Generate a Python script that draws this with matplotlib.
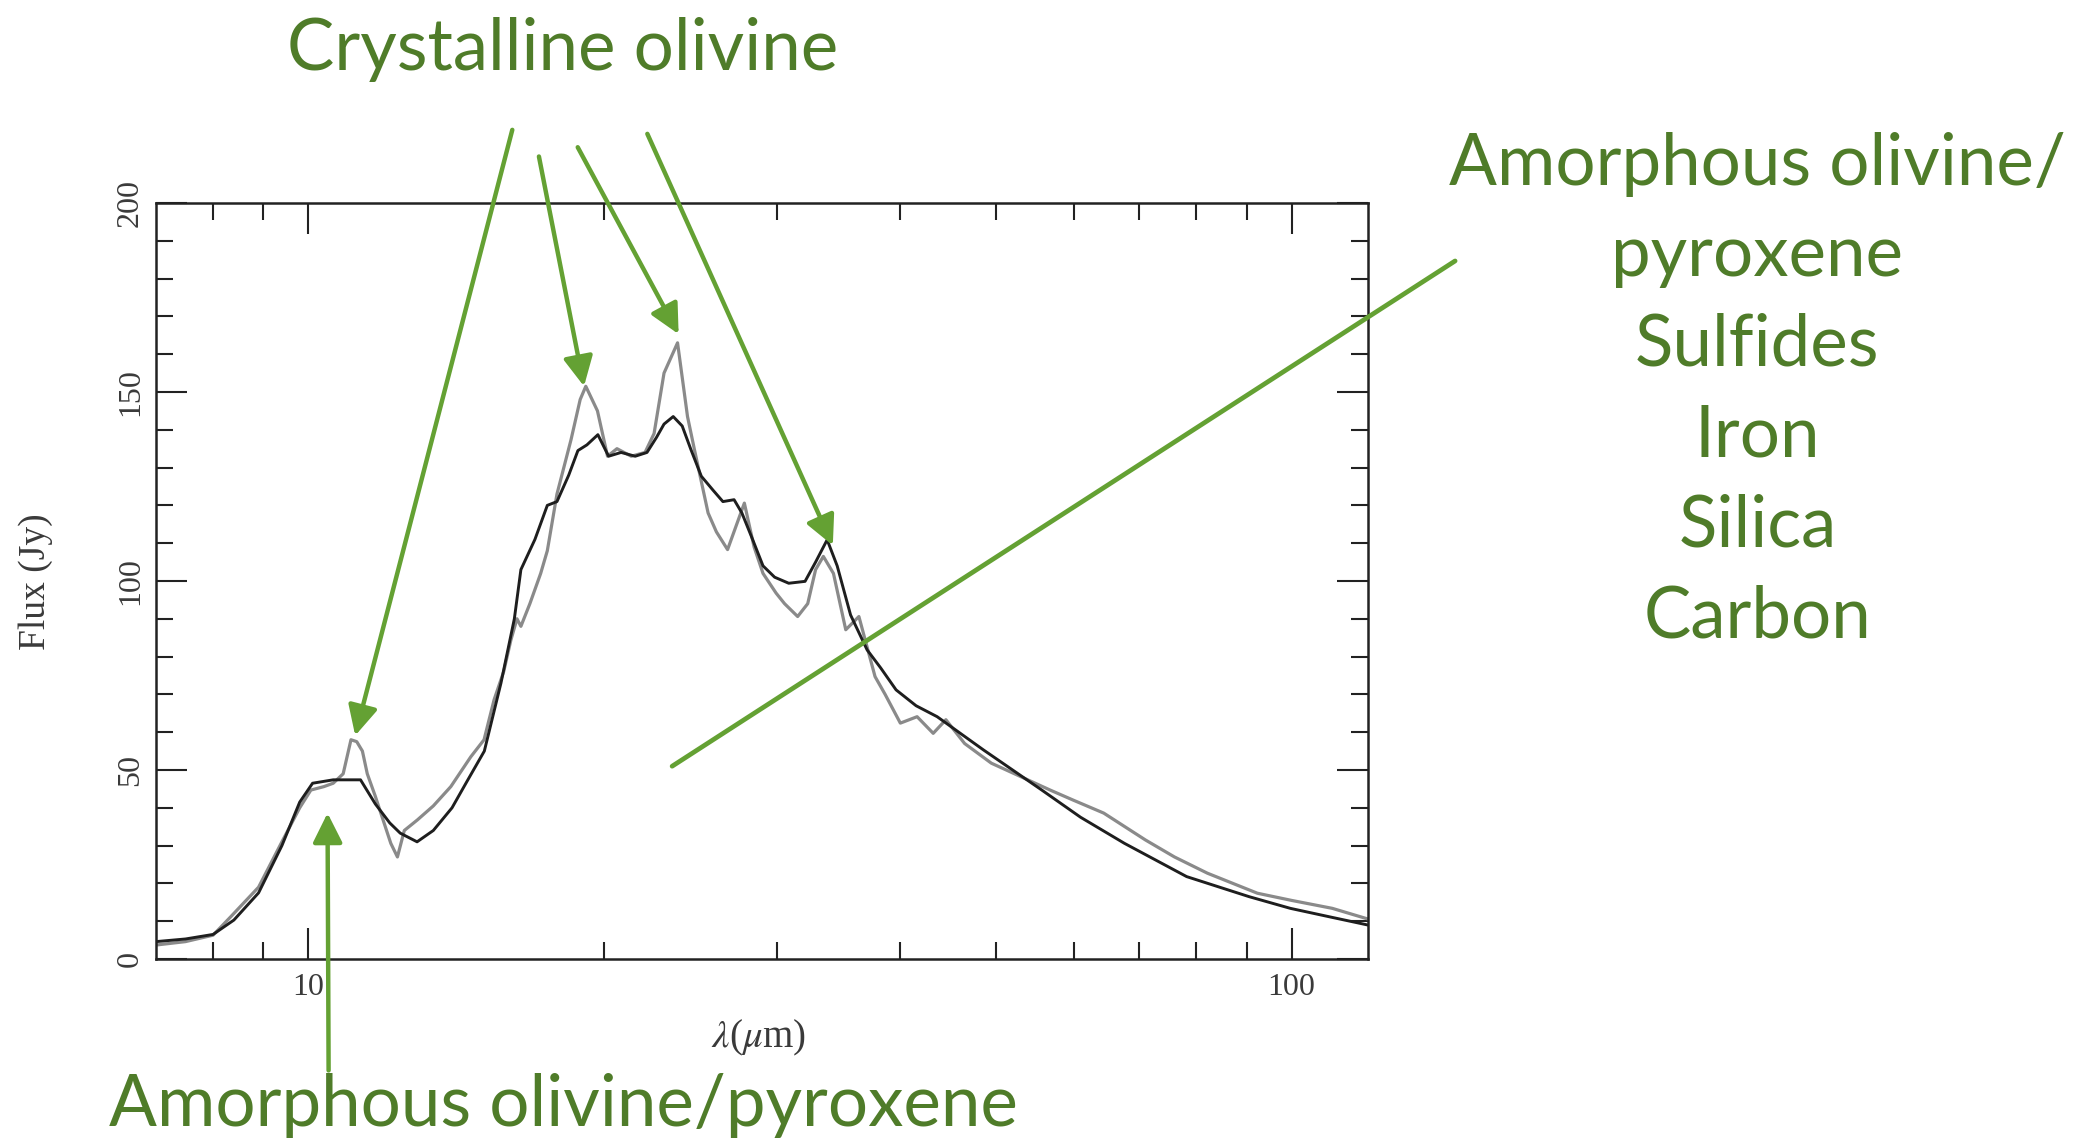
import matplotlib
matplotlib.use("Agg")
import matplotlib.pyplot as plt
from matplotlib.ticker import FixedLocator, NullFormatter

# ---- data ----
model_wl = [7.0, 7.5, 8.0, 8.4, 8.9, 9.4, 9.8, 10.1, 10.6, 11.3, 11.7, 12.1, 12.4,
            12.9, 13.4, 14.0, 14.5, 15.1, 15.7, 16.2, 16.45, 17.0, 17.5, 17.9, 18.4,
            18.8, 19.2, 19.7, 20.2, 20.8, 21.5, 22.1, 22.6, 23.0, 23.5, 24.0, 24.5,
            25.1, 25.8, 26.4, 27.1, 27.6, 28.3, 29.0, 29.8, 30.8, 32.0, 32.8, 33.7,
            34.5, 35.6, 37.0, 38.2, 39.6, 41.5, 43.6, 48.6, 55.7, 61.0, 67.6, 78.2,
            90.5, 99.7, 110.0, 119.5]
model_flux = [4.6, 5.3, 6.5, 10.3, 17.5, 30.0, 41.5, 46.5, 47.4, 47.4, 41.0, 36.0, 33.3,
              31.0, 34.0, 40.0, 47.0, 55.0, 73.0, 90.0, 103.0, 111.0, 120.0, 121.0, 128.0,
              134.5, 136.0, 138.7, 133.0, 134.0, 133.0, 134.0, 138.0, 141.5, 143.5, 141.0, 134.7,
              127.7, 124.0, 121.0, 121.5, 118.0, 111.0, 104.0, 101.0, 99.4, 99.9, 105.0, 110.9,
              104.0, 91.0, 81.8, 77.0, 71.2, 67.0, 64.1, 55.3, 44.7, 37.5, 30.6, 21.8,
              16.5, 13.4, 11.0, 9.0]

obs_wl = [7.0, 7.5, 8.0, 8.34, 8.9, 9.4, 9.8, 10.06, 10.37, 10.6, 10.85, 11.05, 11.2,
          11.35, 11.48, 11.7, 11.85, 12.13, 12.32, 12.52, 12.91, 13.4, 13.96, 14.63, 15.09,
          15.45, 15.8, 16.07, 16.3, 16.45, 16.8, 17.23, 17.5, 17.9, 18.5, 18.9, 19.15,
          19.68, 20.15, 20.6, 21.3, 22.0, 22.47, 23.0, 23.74, 24.3, 24.7, 25.5, 26.0,
          26.69, 27.76, 28.4, 29.0, 29.9, 30.5, 31.45, 32.2, 32.8, 33.4, 34.2, 35.2,
          36.3, 37.7, 38.6, 40.0, 41.6, 43.2, 44.5, 46.5, 49.5, 56.8, 60.0, 64.4,
          71.0, 76.0, 82.1, 92.3, 100.0, 110.0, 119.5]
obs_flux = [3.7, 4.6, 6.3, 11.2, 19.0, 31.0, 40.0, 44.7, 45.6, 46.5, 49.0, 58.0, 57.5,
            55.0, 49.0, 43.0, 38.6, 30.6, 27.0, 34.0, 36.8, 40.5, 45.6, 53.5, 58.0,
            68.6, 76.0, 84.4, 90.0, 88.0, 94.0, 102.0, 108.0, 123.0, 137.4, 148.0, 151.5,
            145.0, 133.0, 135.0, 133.0, 134.0, 139.0, 155.0, 163.0, 143.5, 134.7, 118.0, 113.0,
            108.3, 120.6, 109.0, 102.0, 96.8, 94.0, 90.6, 94.0, 103.0, 106.5, 102.0, 87.1,
            90.6, 74.7, 70.0, 62.4, 64.1, 59.7, 63.3, 57.0, 51.8, 44.7, 42.0, 38.6,
            31.5, 27.0, 22.7, 17.4, 15.5, 13.4, 10.6]

x_major = [10, 100]
x_labels = ["10", "100"]
x_minor = [8, 9, 20, 30, 40, 50, 60, 70, 80, 90]
y_major = [0, 50, 100, 150, 200]
y_minor = [10, 20, 30, 40, 60, 70, 80, 90, 110, 120, 130, 140, 160, 170, 180, 190]

# crystalline olivine features (arrow tips, wavelength / flux)
cryst_tip_wl = [11.16, 19.07, 23.8, 34.15]
cryst_tip_flux = [59.1, 151.5, 165.3, 109.4]

right_lines = ["Amorphous olivine/", "pyroxene", "Sulfides", "Iron", "Silica", "Carbon"]

TEXT_GREEN = "#4f7c29"
ARROW_GREEN = "#64a133"
AXIS_TEXT = "#3a3a3a"
SERIF = ["Liberation Serif", "DejaVu Serif"]
SANS = ["Lato", "DejaVu Sans"]

plt.rcParams["mathtext.fontset"] = "stix"

fig = plt.figure(figsize=(20.97, 11.44), dpi=100)
ax = fig.add_axes([0.0744, 0.1617, 0.5780, 0.6609])

ax.plot(obs_wl, obs_flux, color="#8a8a8a", lw=2.3)
ax.plot(model_wl, model_flux, color="#1e1e1e", lw=2.1)

ax.set_xscale("log")
ax.set_xlim(7.0, 119.6)
ax.set_ylim(0, 200)
ax.xaxis.set_major_locator(FixedLocator(x_major))
ax.xaxis.set_minor_locator(FixedLocator(x_minor))
ax.xaxis.set_minor_formatter(NullFormatter())
ax.set_xticklabels(x_labels)
ax.yaxis.set_major_locator(FixedLocator(y_major))
ax.yaxis.set_minor_locator(FixedLocator(y_minor))

ax.tick_params(which="both", direction="in", top=True, right=True, width=1.5, color="#222222")
ax.tick_params(which="major", length=22)
ax.tick_params(which="minor", length=12)
ax.tick_params(axis="x", which="major", pad=10, labelsize=23, labelcolor=AXIS_TEXT)
ax.tick_params(axis="y", which="major", pad=8, labelsize=23, labelcolor=AXIS_TEXT,
               labelrotation=90)
for lab in ax.get_xticklabels() + ax.get_yticklabels():
    lab.set_family(SERIF)
for lab in ax.get_yticklabels():
    lab.set_va("center")
for sp in ax.spines.values():
    sp.set_linewidth(1.8)
    sp.set_color("#222222")

fig.text(0.0172, 0.4912, "Flux (Jy)", rotation=90, ha="center", va="center",
         fontsize=27, family=SERIF, color=AXIS_TEXT)
fig.text(0.3616, 0.0924, r"$\lambda$($\mu$m)", ha="center", va="center",
         fontsize=28, family=SERIF, color=AXIS_TEXT)

# arrows from the title to the crystalline peaks
tails = [(0.2443, 0.8865), (0.2570, 0.8632), (0.2755, 0.8713), (0.3087, 0.8830)]
arrow_style = dict(arrowstyle="-|>,head_length=0.9,head_width=0.45", mutation_scale=20,
                   lw=3.2, color=ARROW_GREEN, shrinkA=0, shrinkB=0)
for wl, fl, tail in zip(cryst_tip_wl, cryst_tip_flux, tails):
    ax.annotate("", xy=(wl, fl), xycoords="data", xytext=tail,
                textcoords="figure fraction", arrowprops=arrow_style, annotation_clip=False)

# amorphous feature arrow from below
ax.annotate("", xy=(10.46, 38.6), xycoords="data", xytext=(0.1567, 0.0643),
            textcoords="figure fraction", arrowprops=arrow_style, annotation_clip=False)

# plain line for the continuum components
ax.annotate("", xy=(23.44, 51.0), xycoords="data", xytext=(0.6939, 0.7719),
            textcoords="figure fraction",
            arrowprops=dict(arrowstyle="-", lw=3.4, color=ARROW_GREEN, shrinkA=0, shrinkB=0),
            annotation_clip=False)

fig.text(0.2685, 0.9567, "Crystalline olivine", ha="center", va="center",
         fontsize=51, family=SANS, color=TEXT_GREEN)
fig.text(0.2685, 0.0339, "Amorphous olivine/pyroxene", ha="center", va="center",
         fontsize=51, family=SANS, color=TEXT_GREEN)
for i, line in enumerate(right_lines):
    fig.text(0.838, 1 - (123 + 67.6 * i) / 855, line, ha="center", va="center",
             fontsize=51, family=SANS, color=TEXT_GREEN)

fig.savefig("out.png", dpi=100)
